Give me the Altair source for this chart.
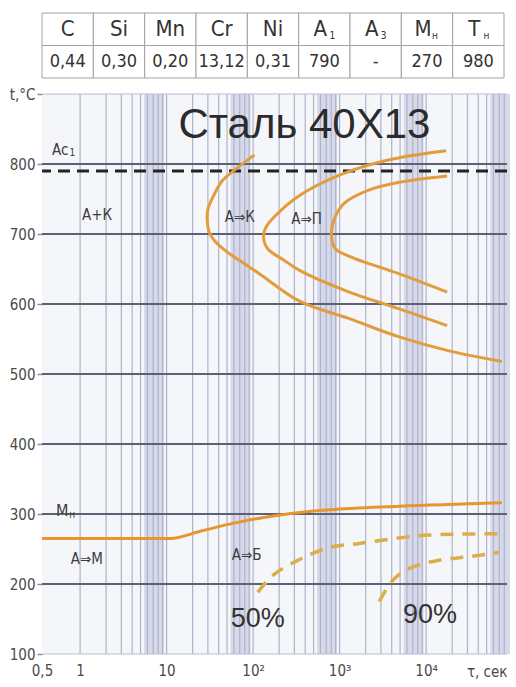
import altair as alt
import pandas as pd

NARROW = "Liberation Sans Narrow, DejaVu Sans Condensed, sans-serif"
SANS = "Liberation Sans, Arial, sans-serif"

# ---- composition / critical points table ----
elements = ["C", "Si", "Mn", "Cr", "Ni", "A", "A", "M", "T"]
element_subs = ["", "", "", "", "", "1", "3", "н", "н"]
contents = ["0,44", "0,30", "0,20", "13,12", "0,31", "790", "-", "270", "980"]

A1 = 790  # °C, critical point drawn as the dashed line

# ---- axes ranges ----
X_MIN, X_MAX = 0.363, 86000
T_MIN, T_MAX = 100, 900

# ---- isothermal transformation curves (time, s / temperature, °C) ----
start_t = [104, 62, 44, 35, 30, 29.5, 31, 36, 47, 70, 119, 344, 1295, 4886, 18400, 75000]
start_T = [813, 792, 776, 755, 735, 720, 703, 690, 677, 662, 643, 604, 579, 553, 533, 518]

carbide_end_t = [17000, 4886, 2387, 993, 344, 177, 143, 132, 147, 225, 344, 1295, 4886, 17500]
carbide_end_T = [819, 809, 800, 784, 755, 725, 711, 698, 679, 663, 648, 617, 593, 569]

pearlite_t = [17500, 4886, 2200, 1135, 871, 804, 894, 1295, 4886, 17500]
pearlite_T = [783, 774, 763, 744, 722, 698, 679, 668, 643, 617]

ms_t = [X_MIN, 11, 24, 60, 187, 762, 4886, 75000]
ms_T = [265, 265, 275, 287, 298, 306, 311, 316]

bainite50_t = [113, 155, 219, 344, 704, 1690, 3750, 10800, 75000]
bainite50_T = [188, 208, 222, 235, 251, 258, 264, 270, 272]

bainite90_t = [2870, 3750, 5150, 7280, 14100, 31300, 69000]
bainite90_T = [175, 199, 216, 225, 234, 239, 245]

# ---- grid ----
decades = [1, 10, 100, 1000, 10000]
grid_t = [m * d for d in decades for m in range(1, 10) if m * d < X_MAX]
band_lo = [5.5 * d for d in decades]
band_hi = [9.3 * d for d in decades]
temp_lines = [200, 300, 400, 500, 600, 700, 800]
frame_lines = [T_MIN, T_MAX]

# ---- text annotations (time, temperature) ----
phase_text = ["А+К", "А⇒К", "А⇒П", "А⇒М", "А⇒Б"]
phase_t = [1.57, 70, 414, 1.2, 84]
phase_T = [727, 725, 722, 236, 241]

pct_text = ["50%", "90%"]
pct_t = [113, 11100]
pct_T = [150, 156]

W, H = 465, 560

x_axis = alt.Axis(
    values=[X_MIN, 1, 10, 100, 1000, 10000],
    labelExpr="datum.value < 0.9 ? '0,5' : datum.value < 5 ? '1' : datum.value < 50 ? '10' : "
              "datum.value < 500 ? '10²' : datum.value < 5000 ? '10³' : '10⁴'",
    grid=False, ticks=False, domain=False, labelFlush=False, labelOverlap=False,
    labelPadding=9, labelFont=NARROW, labelFontSize=15, labelColor="#4a4a4a",
    title="τ, сек", titleX=W, titleY=17, titleAlign="right", titleBaseline="middle",
    titleFont=NARROW, titleFontSize=15, titleFontWeight="normal", titleColor="#4a4a4a",
)
y_axis = alt.Axis(
    values=[100, 200, 300, 400, 500, 600, 700, 800, 900],
    labelExpr="datum.value == 900 ? 't,°C' : datum.label",
    grid=False, domain=False, tickSize=5, tickColor="#8a8da0", tickWidth=1.5,
    labelPadding=2, labelFont=NARROW, labelFontSize=15, labelColor="#4a4a4a",
    minExtent=42, maxExtent=42, title=None,
)
x_scale = alt.Scale(type="log", domain=[X_MIN, X_MAX], nice=False)
y_scale = alt.Scale(domain=[T_MIN, T_MAX], nice=False, zero=False)


def X(field):
    return alt.X(f"{field}:Q", scale=x_scale, axis=x_axis)


def Y(field):
    return alt.Y(f"{field}:Q", scale=y_scale, axis=y_axis)


def curve_frame(curves):
    rows = []
    for name, ts, Ts in curves:
        for i, (t, T) in enumerate(zip(ts, Ts)):
            rows.append({"curve": name, "i": i, "t": t, "T": T})
    return pd.DataFrame(rows)


bands = alt.Chart(pd.DataFrame({"lo": band_lo, "hi": band_hi})).mark_rect(
    color="#d0d3e6", opacity=0.85
).encode(x=X("lo"), x2="hi", y=alt.value(0), y2=alt.value(H))

vlines = alt.Chart(pd.DataFrame({"t": grid_t})).mark_rule(
    color="#afb3c9", strokeWidth=1.2
).encode(x=X("t"))

frame = alt.Chart(pd.DataFrame({"T": frame_lines})).mark_rule(
    color="#b9bdd0", strokeWidth=1.2
).encode(y=Y("T"))

hlines = alt.Chart(pd.DataFrame({"T": temp_lines})).mark_rule(
    color="#5e6174", strokeWidth=2.2
).encode(y=Y("T"))

a1_line = alt.Chart(pd.DataFrame({"T": [A1]})).mark_rule(
    color="#222222", strokeWidth=3, strokeDash=[12, 7]
).encode(y=Y("T"))

c_curves = alt.Chart(curve_frame([
    ("start", start_t, start_T),
    ("carbide", carbide_end_t, carbide_end_T),
    ("pearlite", pearlite_t, pearlite_T),
])).mark_line(color="#e39c3c", strokeWidth=3, interpolate="catmull-rom").encode(
    x=X("t"), y=Y("T"), detail="curve:N", order="i:Q"
)

ms_line = alt.Chart(curve_frame([("ms", ms_t, ms_T)])).mark_line(
    color="#e8942f", strokeWidth=3, interpolate="monotone"
).encode(x=X("t"), y=Y("T"), order="i:Q")

bainite = alt.Chart(curve_frame([
    ("b50", bainite50_t, bainite50_T),
    ("b90", bainite90_t, bainite90_T),
])).mark_line(
    color="#dcae48", strokeWidth=3.5, strokeDash=[13, 9], interpolate="monotone"
).encode(x=X("t"), y=Y("T"), detail="curve:N", order="i:Q")

phases = alt.Chart(pd.DataFrame({"t": phase_t, "T": phase_T, "txt": phase_text})).mark_text(
    font=NARROW, fontSize=15, color="#3c3c3c"
).encode(x=X("t"), y=Y("T"), text="txt:N")

pcts = alt.Chart(pd.DataFrame({"t": pct_t, "T": pct_T, "txt": pct_text})).mark_text(
    font=SANS, fontSize=27, color="#333333"
).encode(x=X("t"), y=Y("T"), text="txt:N")

title = alt.Chart(pd.DataFrame({"t": [392], "T": [856], "txt": ["Сталь 40Х13"]})).mark_text(
    font=SANS, fontSize=42, color="#2b2b2b"
).encode(x=X("t"), y=Y("T"), text="txt:N")

ac1 = alt.Chart(pd.DataFrame({"t": [0.59], "T": [820], "txt": ["Ac"]})).mark_text(
    font=NARROW, fontSize=15, color="#3c3c3c"
).encode(x=X("t"), y=Y("T"), text="txt:N")
ac1_sub = alt.Chart(pd.DataFrame({"t": [0.59], "T": [820], "txt": ["1"]})).mark_text(
    font=NARROW, fontSize=10, color="#3c3c3c", dx=12, dy=3
).encode(x=X("t"), y=Y("T"), text="txt:N")

mn = alt.Chart(pd.DataFrame({"t": [0.62], "T": [304], "txt": ["M"]})).mark_text(
    font=NARROW, fontSize=16, color="#3c3c3c"
).encode(x=X("t"), y=Y("T"), text="txt:N")
mn_sub = alt.Chart(pd.DataFrame({"t": [0.62], "T": [304], "txt": ["н"]})).mark_text(
    font=NARROW, fontSize=10, color="#3c3c3c", dx=10, dy=4
).encode(x=X("t"), y=Y("T"), text="txt:N")

main = alt.layer(
    bands, vlines, frame, hlines, a1_line, c_curves, ms_line, bainite,
    phases, pcts, title, ac1, ac1_sub, mn, mn_sub,
).properties(
    width=W, height=H,
    view=alt.ViewBackground(fill="#f5f6fa", strokeWidth=0),
)

# ---- table ----
cells = pd.DataFrame(
    [{"col": i, "row": "head", "txt": e, "sub": s} for i, (e, s) in enumerate(zip(elements, element_subs))]
    + [{"col": i, "row": "val", "txt": v, "sub": ""} for i, v in enumerate(contents)]
)
tx = alt.X("col:O", scale=alt.Scale(paddingInner=0, paddingOuter=0), axis=None)
ty = alt.Y("row:N", sort=["head", "val"], scale=alt.Scale(paddingInner=0, paddingOuter=0), axis=None)

base = alt.Chart(cells)
t_cells = base.mark_rect(fill="white", stroke="#a2a2a2", strokeWidth=1).encode(x=tx, y=ty)
t_head_plain = base.transform_filter("datum.row == 'head' && datum.sub == ''").mark_text(
    font=NARROW, fontSize=22, color="#333333"
).encode(x=tx, y=ty, text="txt:N")
t_head_sub = base.transform_filter("datum.row == 'head' && datum.sub != ''").mark_text(
    font=NARROW, fontSize=22, color="#333333", dx=-4
).encode(x=tx, y=ty, text="txt:N")
t_sub = base.transform_filter("datum.row == 'head' && datum.sub != ''").mark_text(
    font=NARROW, fontSize=10, color="#333333", dx=8, dy=7
).encode(x=tx, y=ty, text="sub:N")
t_vals = base.transform_filter("datum.row == 'val'").mark_text(
    font=NARROW, fontSize=18, color="#333333"
).encode(x=tx, y=ty, text="txt:N")

table = alt.layer(t_cells, t_head_plain, t_head_sub, t_sub, t_vals).properties(
    width=462, height=65,
    view=alt.ViewBackground(fill="white", strokeWidth=0),
)

chart = alt.vconcat(table, main, spacing=8).properties(
    padding={"left": 0, "top": 12, "right": 0, "bottom": 0},
    background="white",
).configure_view(strokeWidth=0)

chart.save("out.html", embed_options={"renderer": "svg", "actions": False})
